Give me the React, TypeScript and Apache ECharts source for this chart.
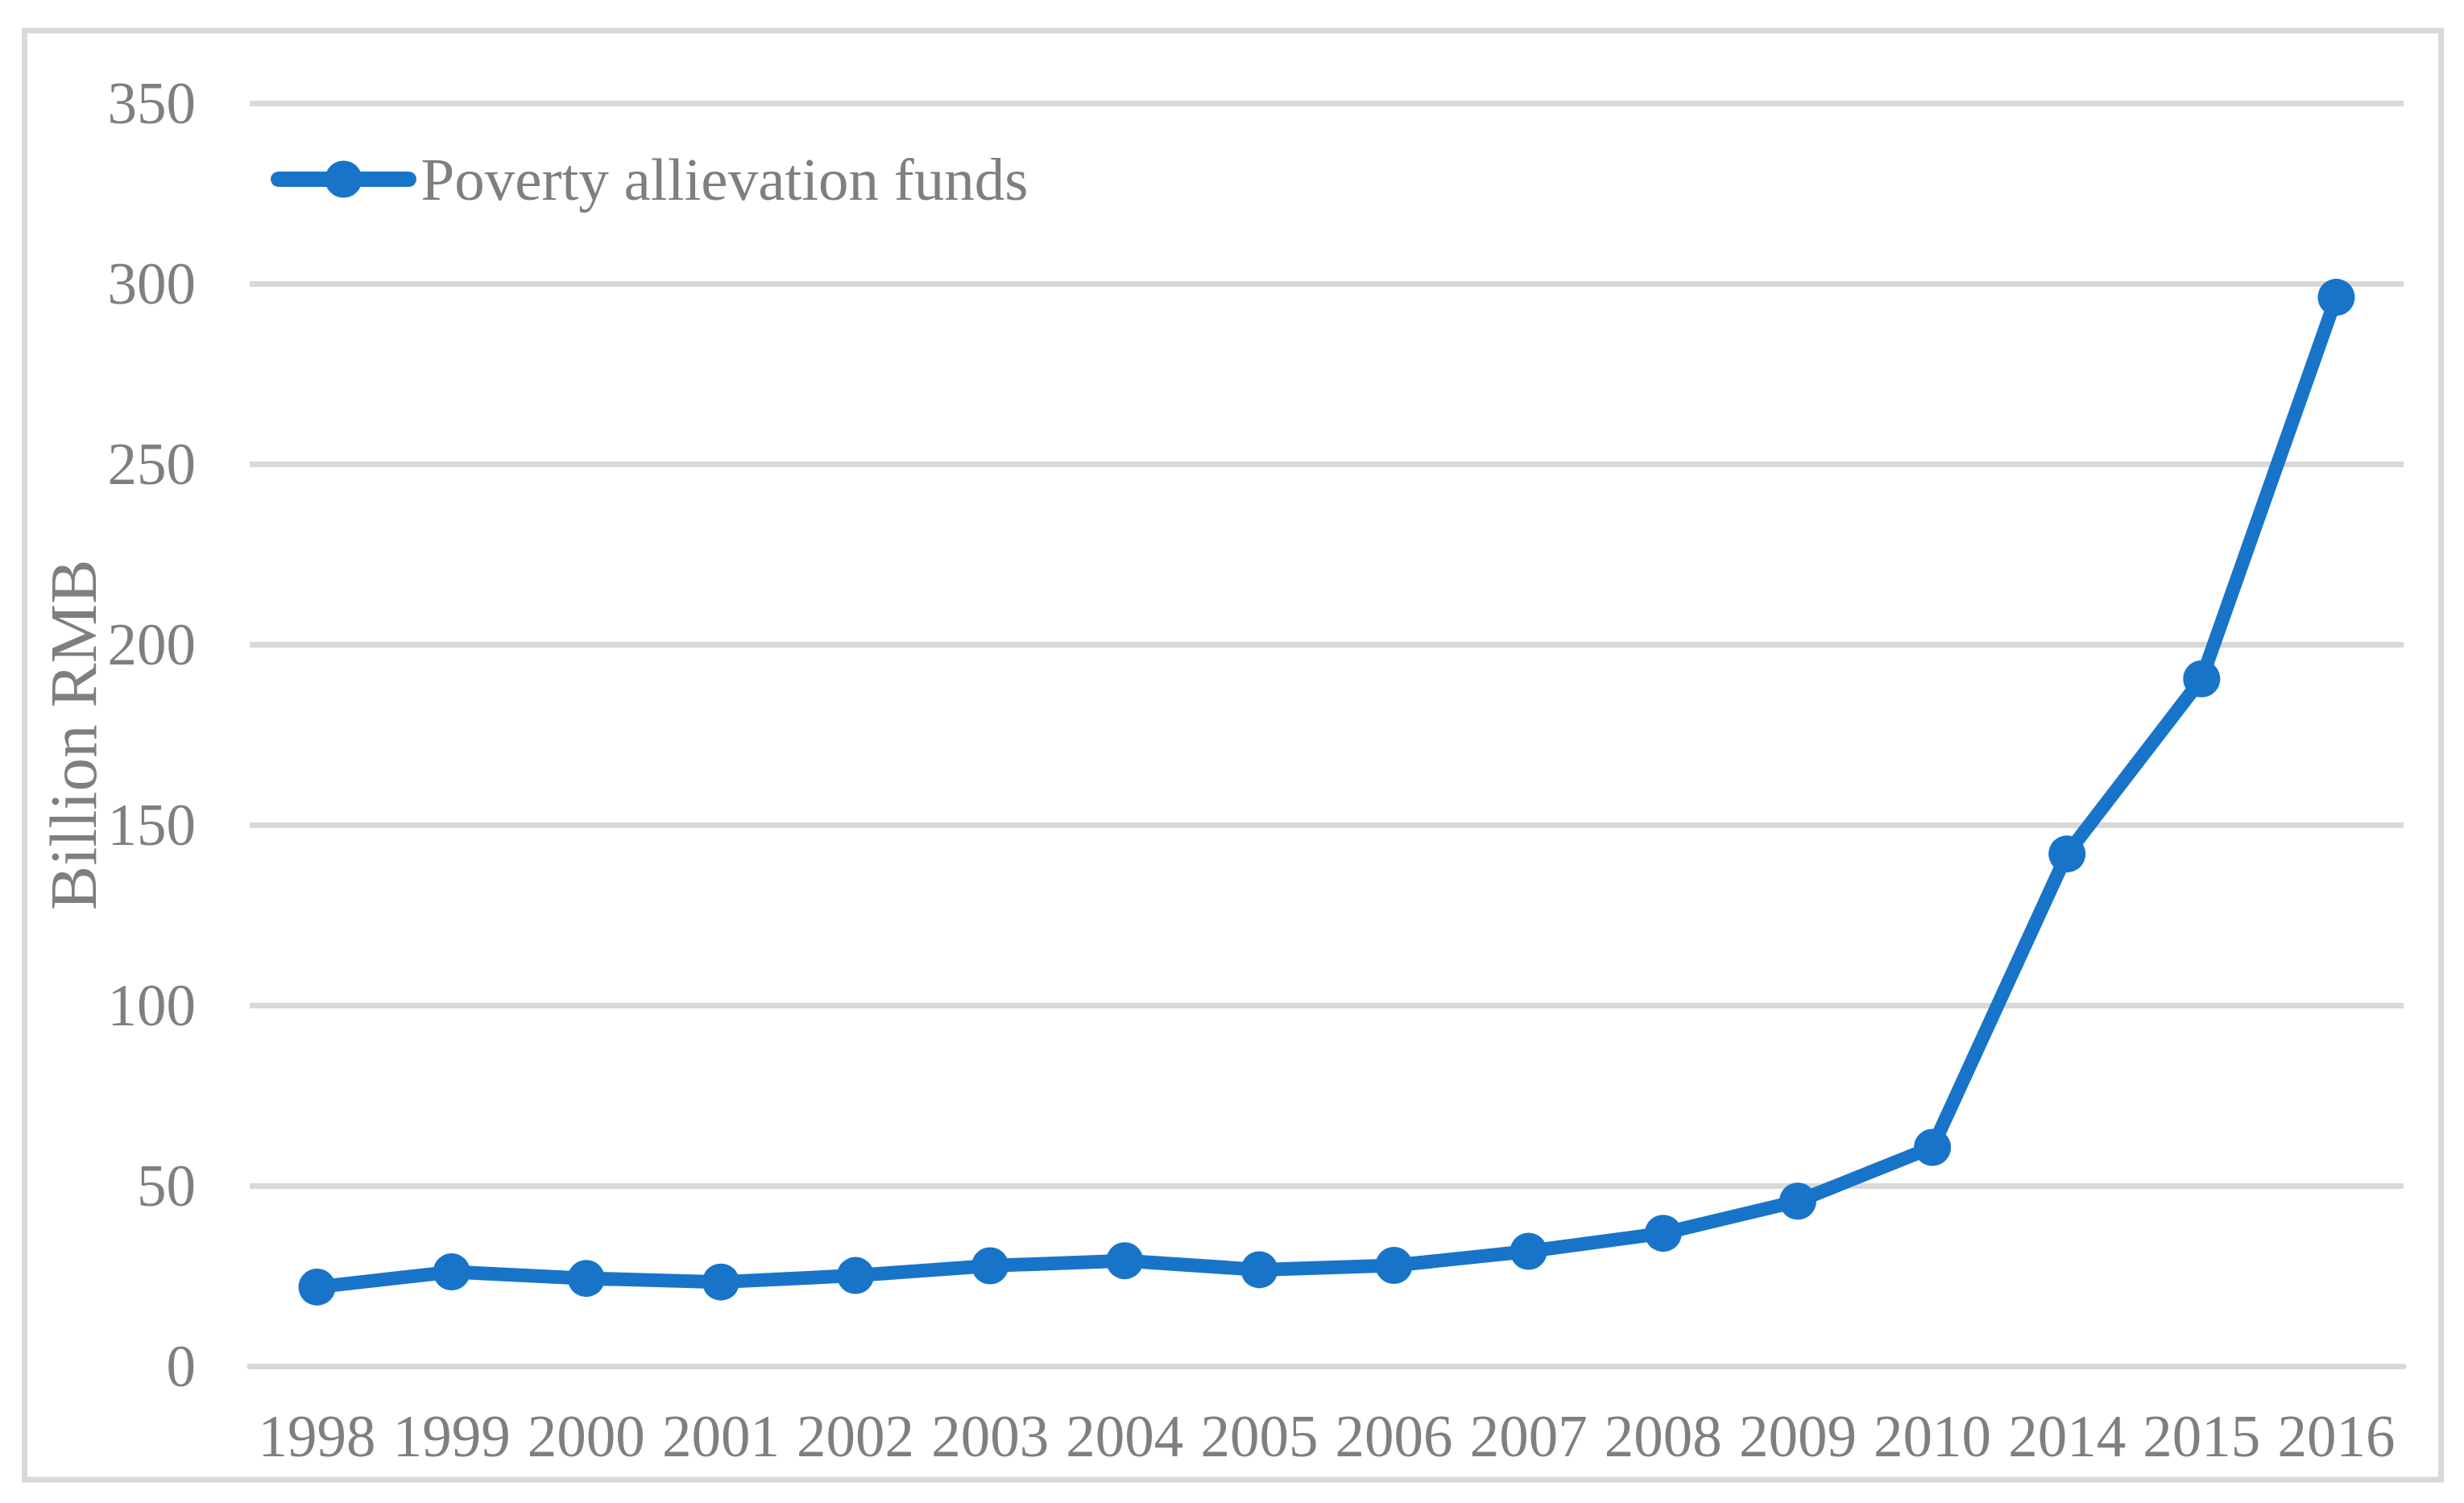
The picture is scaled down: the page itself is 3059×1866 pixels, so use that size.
import React, { useEffect, useRef } from "react";
import * as echarts from "echarts";

const years = ["1998", "1999", "2000", "2001", "2002", "2003", "2004", "2005", "2006", "2007", "2008", "2009", "2010", "2014", "2015", "2016"];
const funds = [22.0, 26.2, 24.4, 23.4, 25.2, 27.9, 29.3, 26.8, 28.0, 31.9, 36.9, 45.8, 60.7, 142.0, 190.5, 296.2];
const seriesName = "Poverty allievation funds";
const yAxisName = "Billion RMB";

const FONT = "'Liberation Serif', 'Times New Roman', serif";
const GRAY = "#7f7f7f";
const BLUE = "#1874c9";
const GRID = "#d9d9d9";

export default function App() {
  const ref = useRef<HTMLDivElement>(null);
  useEffect(() => {
    if (!ref.current) return;
    const chart = echarts.init(ref.current, undefined, { renderer: "svg" });
    chart.setOption({
      animation: false,
      backgroundColor: "#ffffff",
      textStyle: { fontFamily: FONT },
      graphic: [
        {
          type: "rect",
          shape: { x: 30.5, y: 38, width: 3000, height: 1799 },
          style: { fill: "none", stroke: GRID, lineWidth: 7 },
          silent: true,
          z: 0,
        },
      ],
      grid: { left: 310, right: 75, top: 128, bottom: 169.5 },
      legend: {
        show: true,
        left: 331,
        top: 180,
        itemWidth: 162,
        itemHeight: 57.5,
        itemGap: 10,
        lineStyle: { width: 19, cap: "round" },
        textStyle: { fontFamily: FONT, fontSize: 75, color: GRAY, padding: [0, 0, 0, 10] },
        data: [seriesName],
      },
      xAxis: {
        type: "category",
        data: years,
        boundaryGap: true,
        axisLine: { show: true, lineStyle: { color: GRID, width: 7 } },
        axisTick: { show: false },
        axisLabel: { fontFamily: FONT, fontSize: 73, color: GRAY, margin: 50, interval: 0 },
        splitLine: { show: false },
      },
      yAxis: {
        type: "value",
        min: 0,
        max: 350,
        interval: 50,
        name: yAxisName,
        nameLocation: "middle",
        nameRotate: 90,
        nameGap: 178,
        nameMoveOverlap: false,
        nameTextStyle: { fontFamily: FONT, fontSize: 83, color: GRAY },
        axisLine: { show: false },
        axisTick: { show: false },
        axisLabel: { fontFamily: FONT, fontSize: 73, color: GRAY, margin: 67 },
        splitLine: { show: true, lineStyle: { color: GRID, width: 7 } },
      },
      series: [
        {
          name: seriesName,
          type: "line",
          data: funds,
          symbol: "circle",
          symbolSize: 46,
          itemStyle: { color: BLUE },
          lineStyle: { color: BLUE, width: 17, cap: "round", join: "round" },
          z: 3,
        },
      ],
    });
    return () => chart.dispose();
  }, []);
  return (
    <div
      ref={ref}
      style={{ position: "fixed", left: 0, top: 0, width: 3059, height: 1866, background: "#fff" }}
    />
  );
}
